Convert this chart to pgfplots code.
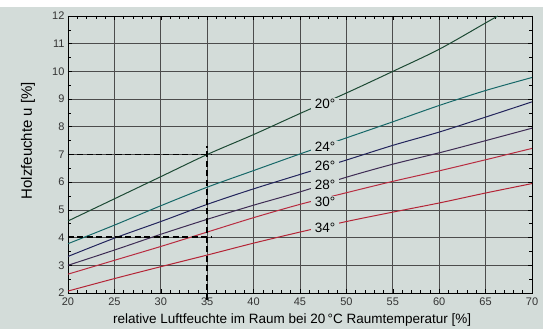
\documentclass[border=0pt]{standalone}
\usepackage{fontspec}
\setmainfont{Liberation Sans}
\usepackage{pgfplots}
\pgfplotsset{compat=1.18}
\definecolor{bgcol}{RGB}{211,220,217}
\definecolor{c20}{RGB}{28,74,52}
\definecolor{c24}{RGB}{22,104,104}
\definecolor{c26}{RGB}{34,36,92}
\definecolor{c28}{RGB}{62,44,84}
\definecolor{c30}{RGB}{184,44,64}
\definecolor{c34}{RGB}{180,36,54}
\tikzset{curve/.style={line width=1pt, smooth, tension=0.5},
  readline/.style={draw=black, line width=1.5pt, dash pattern=on 6pt off 3.5pt, sharp plot}}
\begin{document}
\begin{tikzpicture}
\fill[bgcol] (-68pt,-36pt) rectangle (475pt,293pt);
\fill[white] (-68pt,286pt) rectangle (475pt,293pt);
\path[use as bounding box] (-68pt,-36pt) rectangle (475pt,293pt);
\begin{axis}[
  scale only axis, width=464pt, height=277pt,
  at={(0,0)}, anchor=south west,
  xmin=20, xmax=70, ymin=2, ymax=12,
  xtick={20,25,...,70}, ytick={2,3,...,12},
  minor x tick num=4, minor y tick num=1,
  grid=major,
  major grid style={line width=0.65pt, draw=black!70},
  axis line style={line width=0.8pt},
  tick style={black, line width=0.6pt},
  ticklabel style={font=\fontsize{11}{13}\selectfont, text=black!80},
  xticklabel style={yshift=-1pt},
  /pgf/number format/assume math mode=true,
  xlabel={relative Luftfeuchte im Raum bei 20\,°C Raumtemperatur [\%]},
  ylabel={Holzfeuchte u [\%]},
  xlabel style={font=\fontsize{13.5}{15}\selectfont, at={(axis description cs:0.483,-0.097)}, anchor=center},
  ylabel style={font=\fontsize{15}{17}\selectfont, at={(axis description cs:-0.086,0.55)}, anchor=center, rotate=0},
  clip=false,
  unbounded coords=jump,
]
% 20 deg
\addplot[c20, curve] coordinates {(20,4.6) (25,5.4) (30,6.2) (35,7.0) (40,7.72) (45,8.48) (50,9.22) (55,10.0) (60,10.8) (65,11.75) (66.3,12.0)};
% 24 deg
\addplot[c24, curve] coordinates {(20,3.78) (25,4.45) (30,5.15) (35,5.82) (40,6.42) (45,7.02) (50,7.6) (55,8.18) (60,8.77) (65,9.31) (70,9.78)};
% 26 deg
\addplot[c26, curve] coordinates {(20,3.32) (25,3.98) (30,4.58) (35,5.2) (40,5.76) (45,6.28) (50,6.8) (55,7.33) (60,7.81) (65,8.35) (70,8.9)};
% 28 deg
\addplot[c28, curve] coordinates {(20,3.0) (25,3.55) (30,4.12) (35,4.66) (40,5.17) (45,5.65) (50,6.18) (55,6.65) (60,7.06) (65,7.5) (70,7.95)};
% 30 deg
\addplot[c30, curve] coordinates {(20,2.68) (25,3.18) (30,3.68) (35,4.2) (40,4.72) (45,5.2) (50,5.62) (55,6.03) (60,6.41) (65,6.81) (70,7.22)};
% 34 deg
\addplot[c34, curve] coordinates {(20,2.07) (25,2.52) (30,2.95) (35,3.37) (40,3.8) (45,4.2) (50,4.58) (55,4.92) (60,5.25) (65,5.61) (70,5.95)};
% dashed reading lines
\addplot[readline] coordinates {(20,7) (35.5,7) (35.5,nan) (20,4.02) (35.5,4.02)};
\addplot[readline] coordinates {(35,1.75) (35,7.3)};
% labels
\begin{scope}[every node/.style={fill=bgcol, inner xsep=3.5pt, inner ysep=1pt, font=\fontsize{13.5}{15}\selectfont}]
\node at (axis cs:47.7,8.82) {20°};
\node at (axis cs:47.7,7.27) {24°};
\node at (axis cs:47.7,6.58) {26°};
\node at (axis cs:47.7,5.89) {28°};
\node at (axis cs:47.7,5.28) {30°};
\node at (axis cs:47.7,4.36) {34°};
\end{scope}
\end{axis}
\end{tikzpicture}
\end{document}
